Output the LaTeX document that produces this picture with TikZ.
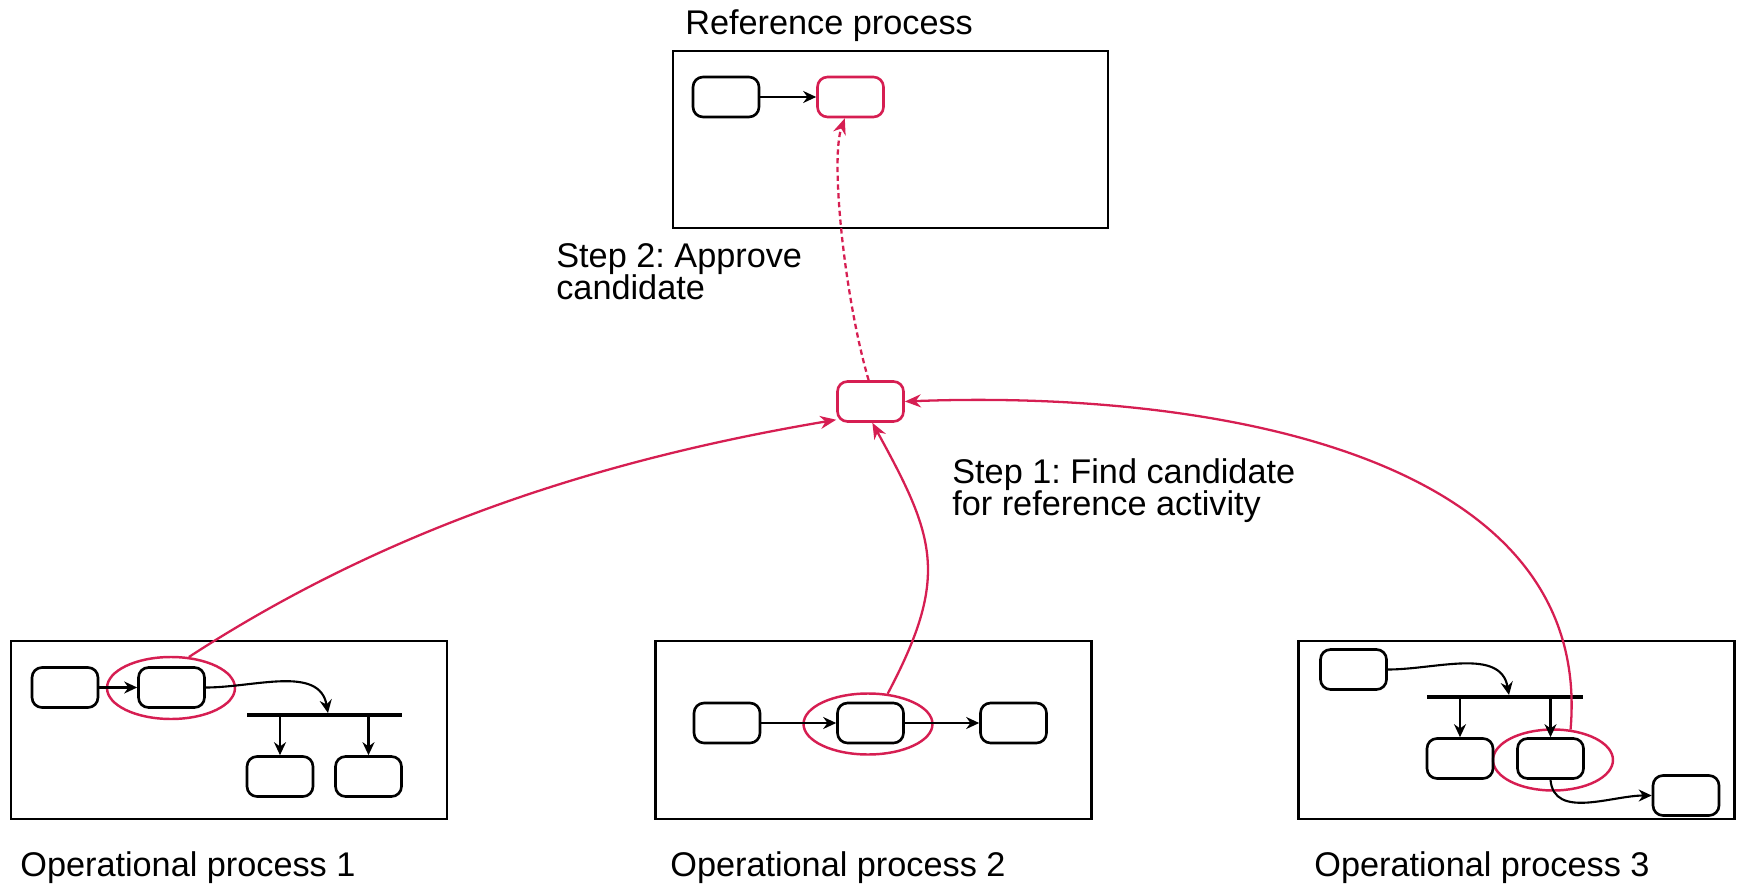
\documentclass[tikz,border=0pt]{standalone}
\usepackage{fontspec}
\setmainfont{Liberation Sans}
\usepackage{tikz}
\usetikzlibrary{arrows.meta,shapes.geometric,positioning}

\definecolor{crimson}{RGB}{214,30,82}

\tikzset{
	act/.style={draw, rounded corners=0.2cm, minimum width=1.32cm, minimum height=0.8cm, line width=1.5pt, inner sep=0pt},
	redact/.style={act, draw=crimson},
	procbox/.style={draw, line width=1.3pt, minimum width=8.72cm, minimum height=3.56cm, inner sep=0pt},
	sel/.style={ellipse, draw=crimson, line width=1.4pt, inner sep=0pt},
	flow/.style={-{Stealth[length=0.26cm,width=0.24cm]}, line width=1.2pt},
	link/.style={crimson, line width=1.3pt, -{Stealth[length=0.32cm,width=0.26cm]}},
	lbl/.style={anchor=base west, inner sep=0pt, font=\fontsize{19.5pt}{18.2pt}\selectfont, align=left},
}

\begin{document}
\frenchspacing
\begin{tikzpicture}[x=0.02cm,y=-0.02cm]
		\useasboundingbox (0,0) rectangle (1738,885);
		% reference process
		\node[procbox, minimum width=8.7cm, minimum height=3.54cm] (ref) at (890.5,139.5) {};
		\node[lbl] (reflbl) at (685,35) {Reference process};
		\node[act] (r1) at (726,97) {};
		\node[redact] (r2) at (850.5,97) {};
		\draw[flow] (r1) -- (r2);
		% candidate
		\node[redact] (m) at (870.5,401.5) {};
		\node[lbl] (step2) at (556,299) {Step 2: Approve\\candidate};
		\node[lbl] (step1) at (952,515) {Step 1: Find candidate\\for reference activity};
		% operational process 1
		\node[procbox] (op1) at (229,730) {};
		\node[lbl] (op1lbl) at (20,876) {Operational process 1};
		\node[sel, minimum width=2.56cm, minimum height=1.24cm] (e1) at (171,688) {};
		\node[act] (a1) at (65,687.5) {};
		\node[act] (b1) at (171.5,687.5) {};
		\node[act] (c1) at (280,776.5) {};
		\node[act] (d1) at (368.5,776.5) {};
		\coordinate (bar1w) at (247,715);
		\coordinate (bar1e) at (402,715);
		\coordinate (j1) at (328,713);
		\draw[line width=2.8pt] (bar1w) -- (bar1e);
		\draw[flow] (a1) -- (b1);
		\draw[flow] (b1.east) to[out=0,in=100] (j1);
		\draw[flow] (c1.north |- bar1w) -- (c1.north);
		\draw[flow] (d1.north |- bar1w) -- (d1.north);
		% operational process 2
		\node[procbox] (op2) at (873.5,730) {};
		\node[lbl] (op2lbl) at (670,876) {Operational process 2};
		\node[sel, minimum width=2.58cm, minimum height=1.22cm] (e2) at (868,724) {};
		\node[act] (a2) at (727,723) {};
		\node[act] (b2) at (870.5,723) {};
		\node[act] (c2) at (1013.5,723) {};
		\draw[flow] (a2) -- (b2);
		\draw[flow] (b2) -- (c2);
		% operational process 3
		\node[procbox] (op3) at (1516.5,730) {};
		\node[lbl] (op3lbl) at (1314,876) {Operational process 3};
		\node[sel, minimum width=2.4cm, minimum height=1.22cm] (e3) at (1553,760) {};
		\node[act] (a3) at (1353.5,669.5) {};
		\node[act] (b3) at (1460,758.5) {};
		\node[act] (c3) at (1550.5,758.5) {};
		\node[act] (d3) at (1686,795.5) {};
		\coordinate (bar3w) at (1427,697);
		\coordinate (bar3e) at (1583,697);
		\coordinate (j3) at (1509,695);
		\draw[line width=2.8pt] (bar3w) -- (bar3e);
		\draw[flow] (a3.east) to[out=0,in=100] (j3);
		\draw[flow] (b3.north |- bar3w) -- (b3.north);
		\draw[flow] (c3.north |- bar3w) -- (c3.north);
		\draw[flow] (c3.south) to[out=-85,in=180] (d3.west);
		% candidate links
		\draw[link] (e1.60) .. controls (381,532) and (591,461) .. (m.208);
		\draw[link] (e2.57) .. controls (950,576) and (935,537) .. (m.-85);
		\draw[link] (e3.60) .. controls (1595,450) and (1200,390) .. (m.east);
		\draw[link, dash pattern=on 3pt off 2pt] (m.95) .. controls (845,300) and (830,160) .. (r2.-105);
\end{tikzpicture}
\end{document}
